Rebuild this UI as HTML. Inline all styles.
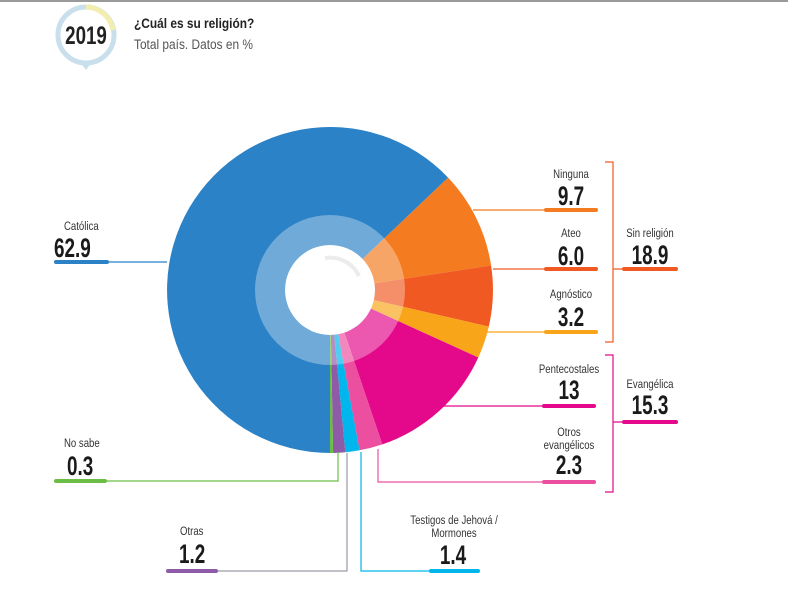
<!DOCTYPE html>
<html><head><meta charset="utf-8"><style>
html,body{margin:0;padding:0;background:#fff;}
svg{display:block;}
text{font-family:"Liberation Sans",sans-serif;fill:#222;}
.l{font-size:12px;fill:#333;}
.v{font-size:27px;fill:#1a1a1a;font-weight:bold;}
</style></head><body>
<svg width="788" height="592" viewBox="0 0 788 592" xmlns="http://www.w3.org/2000/svg">
<rect x="0" y="0" width="788" height="2" fill="#9a9a9a"/>
<circle cx="86" cy="35" r="28" fill="none" stroke="#c9dfec" stroke-width="5"/>
<path d="M86,7 A28,28 0 0 1 113,30" fill="none" stroke="#f3eeb0" stroke-width="5"/>
<path d="M80,62 L86,70 L92,62 Z" fill="#c9dfec"/>
<g transform="translate(86,44) scale(0.75,1)"><text x="0" y="0" text-anchor="middle" style="font-size:25px;font-weight:bold;fill:#222">2019</text></g>
<g transform="translate(134,28) scale(0.85,1)"><text x="0" y="0" style="font-size:14px;font-weight:bold;fill:#222">¿Cuál es su religión?</text></g>
<g transform="translate(134,49) scale(0.85,1)"><text x="0" y="0" style="font-size:14px;fill:#555">Total país. Datos en %</text></g>

<path d="M330,290 L330,453 A163,163 0 1 1 448.1,177.6 Z" fill="#2b82c6"/>
<path d="M330,290 L448.1,177.6 A163,163 0 0 1 491.1,265.5 Z" fill="#f47b20"/>
<path d="M330,290 L491.1,265.5 A163,163 0 0 1 488.8,326.6 Z" fill="#f05a22"/>
<path d="M330,290 L488.8,326.6 A163,163 0 0 1 478.3,357.5 Z" fill="#f9a51a"/>
<path d="M330,290 L478.3,357.5 A163,163 0 0 1 382.3,444.4 Z" fill="#e3098a"/>
<path d="M330,290 L382.3,444.4 A163,163 0 0 1 359.5,450.3 Z" fill="#ec4fa0"/>
<path d="M330,290 L359.5,450.3 A163,163 0 0 1 345.3,452.3 Z" fill="#00b6ec"/>
<path d="M330,290 L345.3,452.3 A163,163 0 0 1 333.1,453 Z" fill="#8e5ba8"/>
<path d="M330,290 L333.1,453 A163,163 0 0 1 330,453 Z" fill="#6cbd45"/>
<circle cx="330" cy="290" r="60" fill="none" stroke="#fff" stroke-opacity="0.32" stroke-width="30"/>
<circle cx="330" cy="290" r="45" fill="#fff"/>
<path d="M325,258 A32,32 0 0 1 359,276" fill="none" stroke="#ececec" stroke-width="4"/>

<g fill="none" stroke-width="1.2">
<path d="M107,262 H167" stroke="#2b82c6"/>
<path d="M473,210 H545" stroke="#f47b20"/>
<path d="M493,269 H545" stroke="#f05a22"/>
<path d="M487,332 H545" stroke="#f9a51a"/>
<path d="M420,406 H543" stroke="#e3098a"/>
<path d="M378,449 V482 H543" stroke="#ec4fa0"/>
<path d="M105,481 H338 V452" stroke="#6cbd45"/>
<path d="M217,571 H347 V453" stroke="#9a9aa6"/>
<path d="M361,452 V571 H430" stroke="#00b6ec"/>
<path d="M605,162 H613 V342 H605 M613,269 H623" stroke="#f05a22"/>
<path d="M605,355 H613 V492 H605 M613,422 H623" stroke="#e3098a"/>
</g>
<g stroke-width="4" stroke-linecap="round">
<path d="M56,262 H107" stroke="#2b82c6"/>
<path d="M546,210 H596" stroke="#f47b20"/>
<path d="M546,269 H596" stroke="#f05a22"/>
<path d="M546,332 H596" stroke="#f9a51a"/>
<path d="M624,269 H676" stroke="#f05a22"/>
<path d="M544,406 H594" stroke="#e3098a"/>
<path d="M544,482 H594" stroke="#ec4fa0"/>
<path d="M624,422 H676" stroke="#e3098a"/>
<path d="M56,481 H105" stroke="#6cbd45"/>
<path d="M168,571 H216" stroke="#8e5ba8"/>
<path d="M431,571 H478" stroke="#00b6ec"/>
</g>

<g transform="translate(64,230) scale(0.8,1)"><text class="l">Católica</text></g>
<g transform="translate(54,257) scale(0.7,1)"><text class="v">62.9</text></g>

<g transform="translate(571,178) scale(0.8,1)"><text class="l" text-anchor="middle">Ninguna</text></g>
<g transform="translate(571,205) scale(0.7,1)"><text class="v" text-anchor="middle">9.7</text></g>
<g transform="translate(571,237) scale(0.8,1)"><text class="l" text-anchor="middle">Ateo</text></g>
<g transform="translate(571,265) scale(0.7,1)"><text class="v" text-anchor="middle">6.0</text></g>
<g transform="translate(571,298) scale(0.8,1)"><text class="l" text-anchor="middle">Agnóstico</text></g>
<g transform="translate(571,326) scale(0.7,1)"><text class="v" text-anchor="middle">3.2</text></g>
<g transform="translate(650,237) scale(0.8,1)"><text class="l" text-anchor="middle">Sin religión</text></g>
<g transform="translate(650,264) scale(0.7,1)"><text class="v" text-anchor="middle">18.9</text></g>

<g transform="translate(569,373) scale(0.8,1)"><text class="l" text-anchor="middle">Pentecostales</text></g>
<g transform="translate(569,399) scale(0.7,1)"><text class="v" text-anchor="middle">13</text></g>
<g transform="translate(569,436) scale(0.8,1)"><text class="l" text-anchor="middle">Otros</text></g>
<g transform="translate(569,449) scale(0.8,1)"><text class="l" text-anchor="middle">evangélicos</text></g>
<g transform="translate(569,474) scale(0.7,1)"><text class="v" text-anchor="middle">2.3</text></g>
<g transform="translate(650,388) scale(0.8,1)"><text class="l" text-anchor="middle">Evangélica</text></g>
<g transform="translate(650,414) scale(0.7,1)"><text class="v" text-anchor="middle">15.3</text></g>

<g transform="translate(64,447) scale(0.8,1)"><text class="l">No sabe</text></g>
<g transform="translate(67,475) scale(0.7,1)"><text class="v">0.3</text></g>
<g transform="translate(180,535) scale(0.8,1)"><text class="l">Otras</text></g>
<g transform="translate(179,563) scale(0.7,1)"><text class="v">1.2</text></g>
<g transform="translate(454,524) scale(0.8,1)"><text class="l" text-anchor="middle">Testigos de Jehová /</text></g>
<g transform="translate(454,537) scale(0.8,1)"><text class="l" text-anchor="middle">Mormones</text></g>
<g transform="translate(453,564) scale(0.7,1)"><text class="v" text-anchor="middle">1.4</text></g>
</svg>
</body></html>
